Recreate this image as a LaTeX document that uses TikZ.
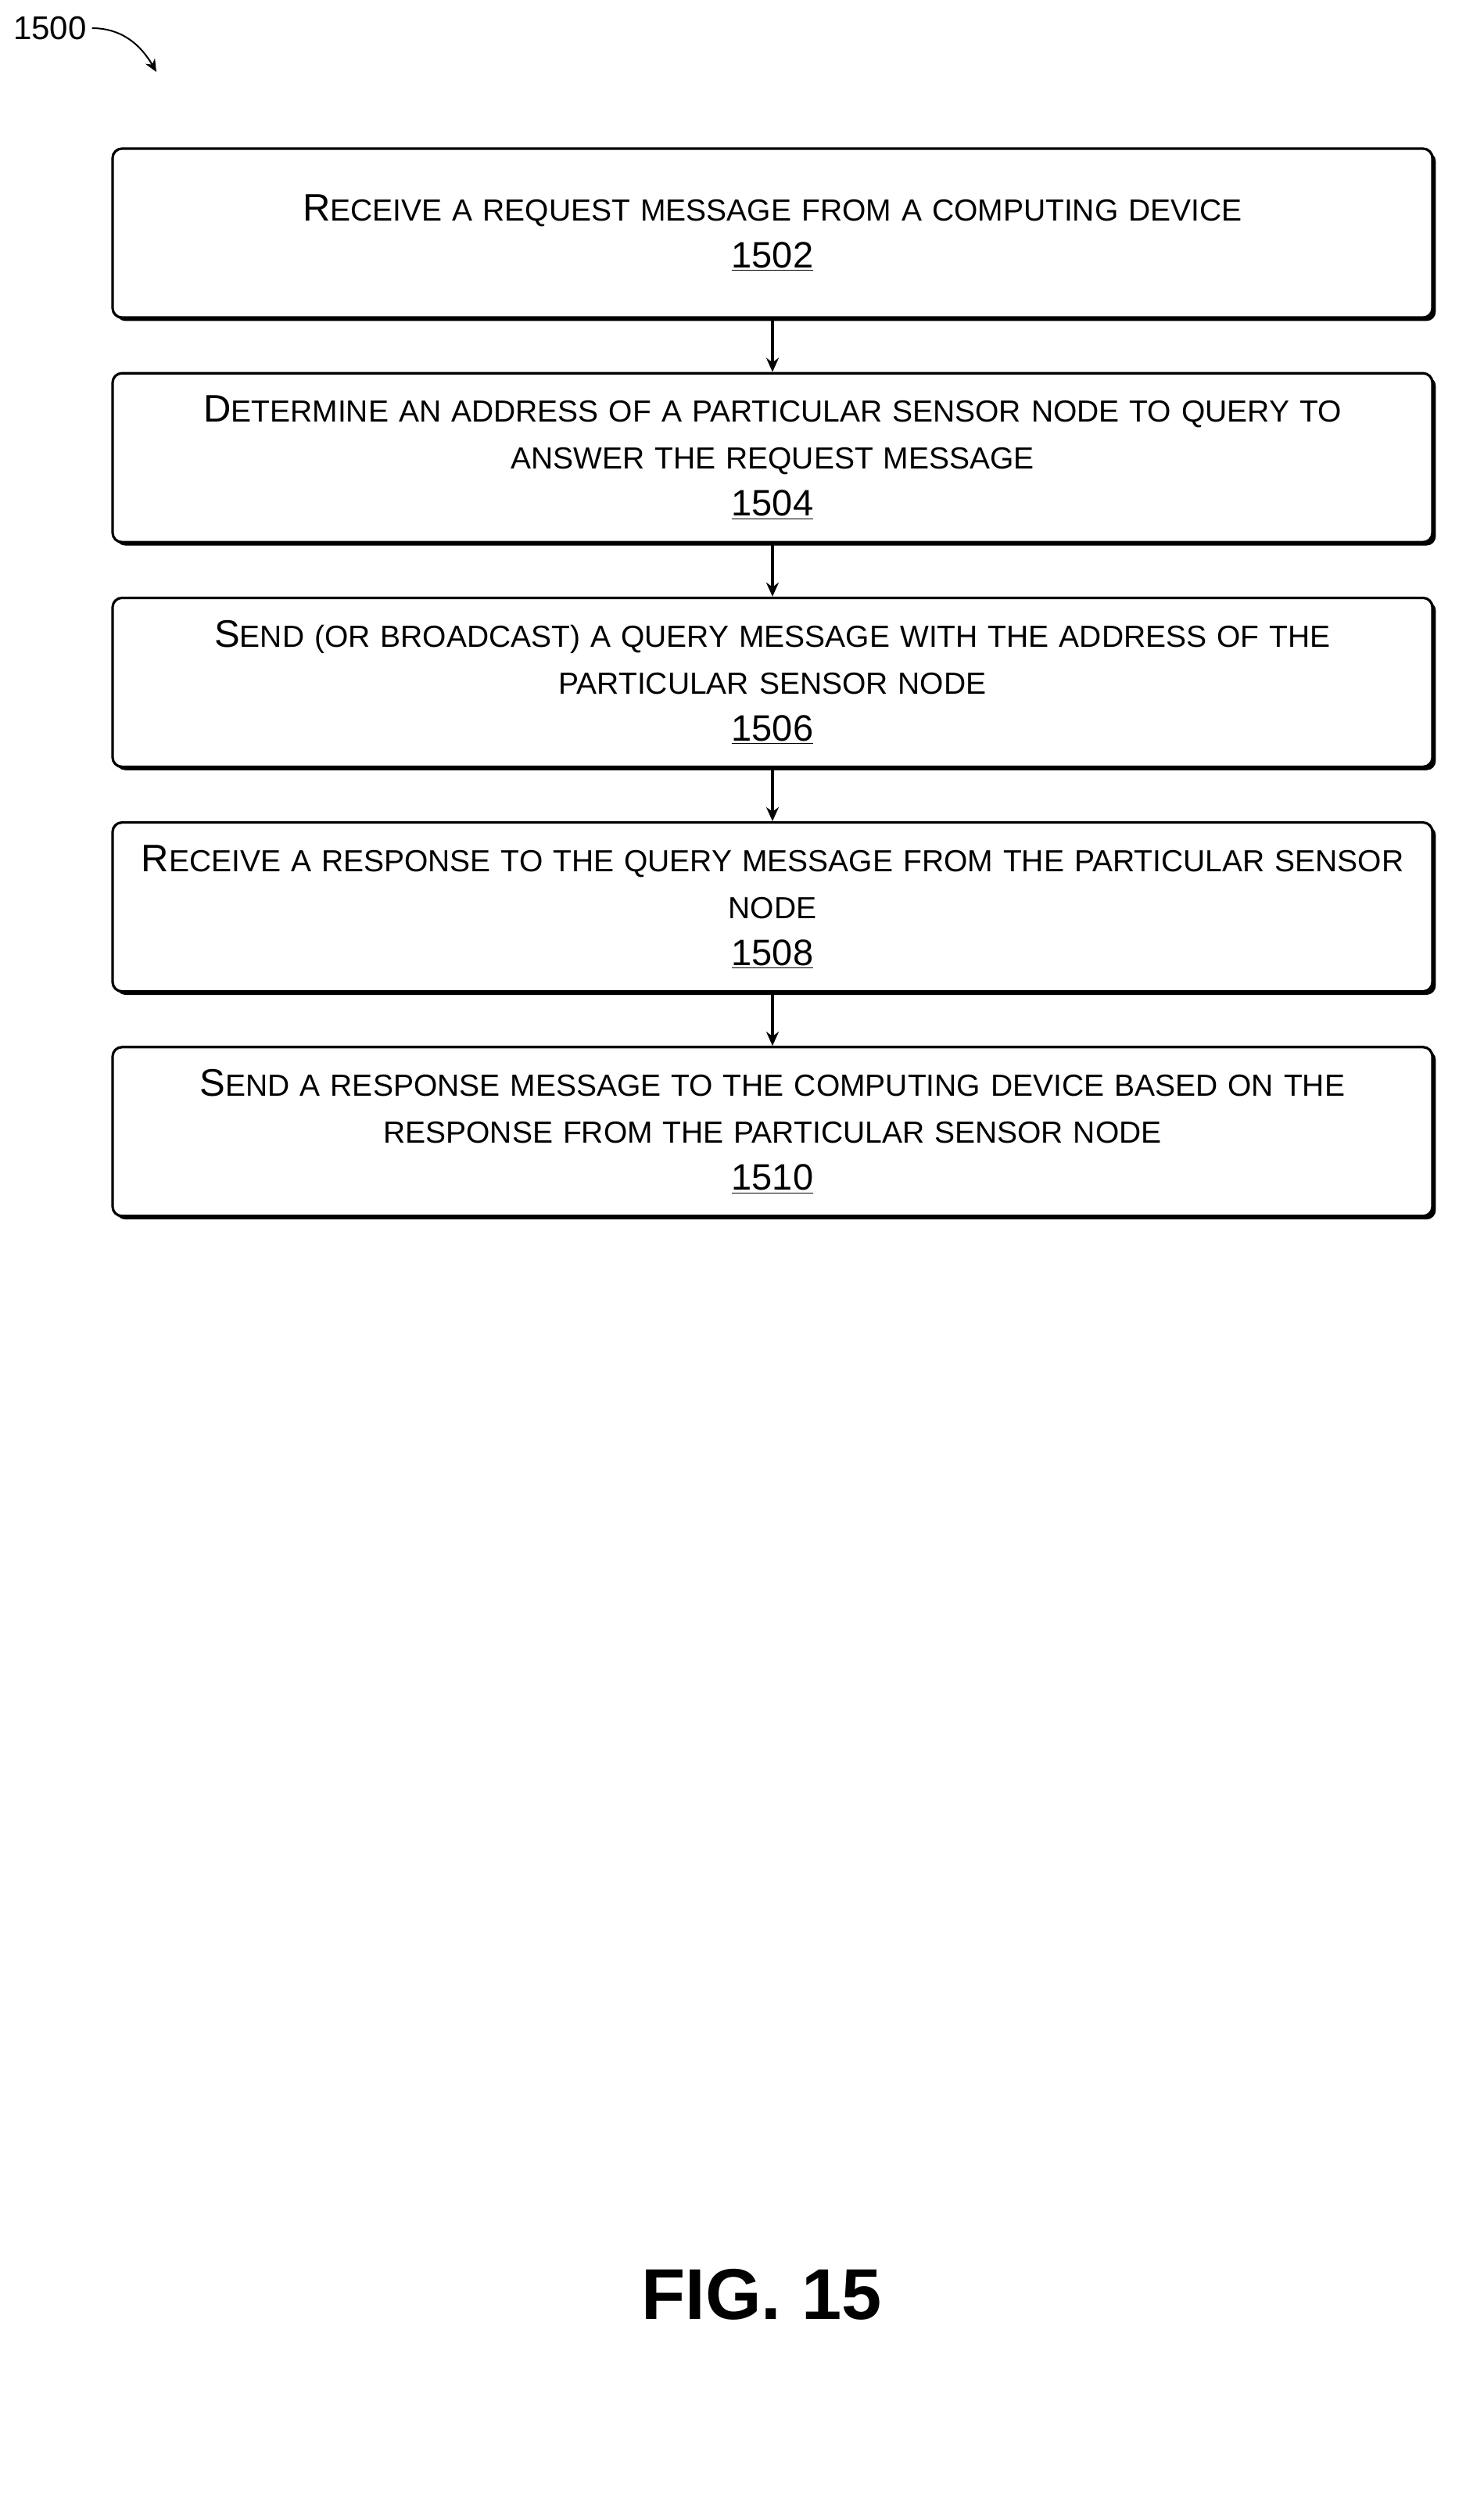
\documentclass[tikz,border=0pt]{standalone}
\usepackage{fontspec}
\setmainfont{Liberation Sans}
\usetikzlibrary{positioning,arrows.meta,shadows}
\newcommand{\bigc}[1]{{\fontsize{24.5}{30}\selectfont #1}}
\newcommand{\smc}[1]{{\fontsize{19.5}{30}\selectfont #1}}
\newcommand{\stepno}[1]{{\fontsize{23.5}{30}\selectfont\underline{#1}}}
\tikzset{
  stepbox/.style={draw, line width=1.6pt, rounded corners=6pt, fill=white,
    minimum width=844pt, minimum height=108pt, align=center, text width=840pt,
    inner sep=0pt, font=\fontsize{19.5}{30}\selectfont,
    drop shadow={shadow xshift=2.2pt, shadow yshift=-2.2pt, fill=black, opacity=1}},
  flow/.style={-{Stealth[length=9pt,width=8pt]}, line width=1.6pt}
}
\begin{document}
\begin{tikzpicture}[x=1pt,y=1pt]
    \useasboundingbox (0,0) rectangle (949,-1604);
    % Reference number
    \node[anchor=west, font=\fontsize{21}{24}\selectfont] (fignum) at (5,-18) {1500};
    \coordinate (fignumend) at (100,-46);
    \draw[-{Stealth[length=8pt,width=7pt]}, line width=1pt] (fignum.east) to[out=0,in=120] (fignumend);
    % Steps
    \node[stepbox] (s1502) at (494,-149)
        {\bigc{R}\smc{ECEIVE A REQUEST MESSAGE FROM A COMPUTING DEVICE}\\\stepno{1502}};
    \node[stepbox, below=34pt of s1502] (s1504)
        {\bigc{D}\smc{ETERMINE AN ADDRESS OF A PARTICULAR SENSOR NODE TO QUERY TO}\\
         \smc{ANSWER THE REQUEST MESSAGE}\\\stepno{1504}};
    \node[stepbox, below=34pt of s1504] (s1506)
        {\bigc{S}\smc{END (OR BROADCAST) A QUERY MESSAGE WITH THE ADDRESS OF THE}\\
         \smc{PARTICULAR SENSOR NODE}\\\stepno{1506}};
    \node[stepbox, below=34pt of s1506] (s1508)
        {\bigc{R}\smc{ECEIVE A RESPONSE TO THE QUERY MESSAGE FROM THE PARTICULAR SENSOR}\\
         \smc{NODE}\\\stepno{1508}};
    \node[stepbox, below=34pt of s1508] (s1510)
        {\bigc{S}\smc{END A RESPONSE MESSAGE TO THE COMPUTING DEVICE BASED ON THE}\\
         \smc{RESPONSE FROM THE PARTICULAR SENSOR NODE}\\\stepno{1510}};
    % Connectors
    \draw[flow] (s1502) -- (s1504);
    \draw[flow] (s1504) -- (s1506);
    \draw[flow] (s1506) -- (s1508);
    \draw[flow] (s1508) -- (s1510);
    % Caption
    \node[font=\fontsize{46}{50}\selectfont\bfseries] (caption) at (487,-1467) {FIG. 15};
\end{tikzpicture}
\end{document}
